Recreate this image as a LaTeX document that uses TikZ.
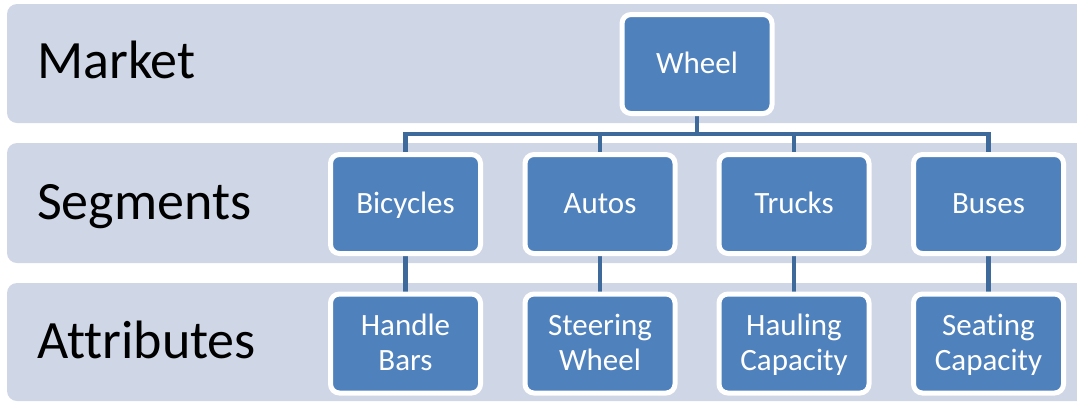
\documentclass[tikz,border=0pt]{standalone}
\usepackage{fontspec}
\setmainfont{Carlito}[Ligatures=NoCommon]
\begin{document}
\pgfdeclarelayer{bands}
\pgfdeclarelayer{lines}
\pgfsetlayers{bands,lines,main}
\definecolor{bandfill}{HTML}{CFD6E5}
\definecolor{boxfill}{HTML}{4F81BD}
\definecolor{linkcol}{HTML}{3E6A9B}
\tikzset{
  band/.style={fill=bandfill, rounded corners=10bp},
  item/.style={draw=white, line width=5bp, fill=boxfill, rounded corners=9bp,
    minimum width=150bp, minimum height=99bp, inner sep=0pt, text=white,
    align=center, font=\fontsize{31bp}{35bp}\selectfont},
  oneline/.style={text height=23bp, text depth=5bp},
  twoline/.style={text height=53bp, text depth=0bp},
  rowlabel/.style={anchor=base west, inner sep=0pt, text=black,
    font=\fontsize{54bp}{60bp}\selectfont},
  link/.style={draw=linkcol, line width=4.5bp}
}
\begin{tikzpicture}[x=1bp, y=-1bp]
\useasboundingbox (0,0) rectangle (1077,402);
\clip (0,0) rectangle (1077,402);

% level bands
\begin{pgfonlayer}{bands}
  \fill[band] (7,4) rectangle (1095,123);
  \fill[band] (7,143) rectangle (1095,263);
  \fill[band] (7,283) rectangle (1095,401);
\end{pgfonlayer}

% row labels
\node[rowlabel] (lmarket) at (37,78) {Market};
\node[rowlabel] (lseg) at (37,219) {Segments};
\node[rowlabel] (lattr) at (37,358) {Attributes};

% hierarchy boxes
\node[item, oneline] (wheel) at (697,64) {Wheel};
\node[item, oneline] (bic) at (405.5,204) {Bicycles};
\node[item, oneline] (autos) at (600,204) {Autos};
\node[item, oneline] (trucks) at (794,204) {Trucks};
\node[item, oneline] (buses) at (988.5,204) {Buses};
\node[item, twoline] (hand) at (405.5,343.5) {Handle\\Bars};
\node[item, twoline] (steer) at (600,343.5) {Steering\\Wheel};
\node[item, twoline] (haul) at (794,343.5) {Hauling\\Capacity};
\node[item, twoline] (seat) at (988.5,343.5) {Seating\\Capacity};

% connectors
\coordinate (hub) at (697,134);
\begin{pgfonlayer}{lines}
  \draw[link] (wheel.center) -- (hub);
  \draw[link] (bic.center) |- (hub) -| (buses.center);
  \draw[link] (autos.center) |- (hub);
  \draw[link] (trucks.center) |- (hub);
  \draw[link] (bic.center) -- (hand.center);
  \draw[link] (autos.center) -- (steer.center);
  \draw[link] (trucks.center) -- (haul.center);
  \draw[link] (buses.center) -- (seat.center);
\end{pgfonlayer}
\end{tikzpicture}
\end{document}
